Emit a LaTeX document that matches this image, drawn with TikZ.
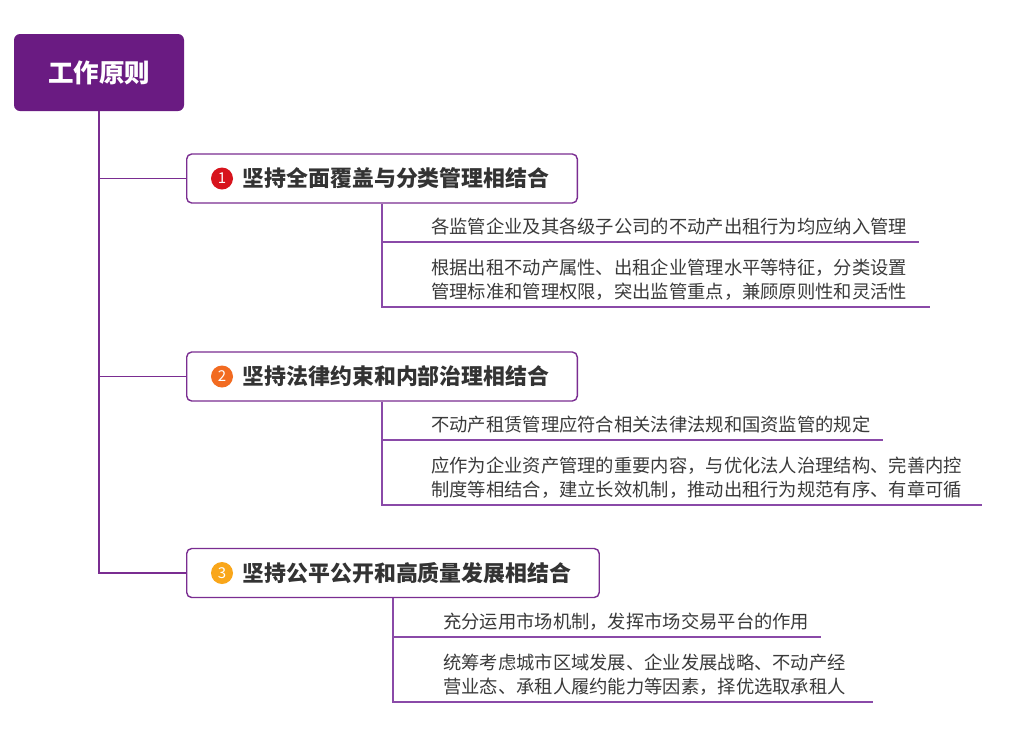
\documentclass[tikz,border=0pt]{standalone}
\usepackage{fontspec}
\setmainfont{Noto Sans CJK SC}
\definecolor{rootc}{HTML}{6A1B82}
\definecolor{linec}{HTML}{7A2D91}
\definecolor{ulinec}{HTML}{8A4AA8}
\definecolor{headc}{HTML}{333333}
\definecolor{leafc}{HTML}{3A3A3A}
\definecolor{numa}{HTML}{D7141D}
\definecolor{numb}{HTML}{F26B21}
\definecolor{numc}{HTML}{F9A61A}
\begin{document}
\begin{tikzpicture}[x=1pt,y=-1pt,
 conn/.style={draw=linec, line width=1.4pt},
 uline/.style={draw=ulinec, line width=1.4pt},
 rootbox/.style={fill=rootc, rounded corners=6pt, minimum width=170pt, minimum height=77pt, inner sep=0pt, text=white, font=\fontsize{25.5}{30}\selectfont\bfseries},
 headbox/.style={draw=linec, line width=1.4pt, fill=white, rounded corners=5pt, minimum height=49pt, inner xsep=0pt, inner ysep=0pt, anchor=west, text=headc, font=\fontsize{21.9}{26}\selectfont\bfseries},
 numdot/.style={circle, inner sep=0pt, minimum size=22pt, text=white, font=\fontsize{15}{15}\selectfont},
 leaf/.style={anchor=south west, inner sep=0pt, text depth=8pt, align=left, text=leafc, font=\fontsize{18.3}{24}\selectfont},
 leaftwo/.style={leaf, text depth=32pt},
]
\useasboundingbox (0,0) rectangle (1015,732);

\node[rootbox] (root) at (99,72.5) {工作原则};

\node[headbox] (h1) at (186,178.5) {\hspace*{56pt}坚持全面覆盖与分类管理相结合\hspace*{28pt}};
\node[headbox] (h2) at (186,376.5) {\hspace*{56pt}坚持法律约束和内部治理相结合\hspace*{28pt}};
\node[headbox] (h3) at (186,573) {\hspace*{56pt}坚持公平公开和高质量发展相结合\hspace*{28pt}};

\node[numdot, fill=numa] (c1) at ([xshift=36pt]h1.west) {1};
\node[numdot, fill=numb] (c2) at ([xshift=36pt]h2.west) {2};
\node[numdot, fill=numc] (c3) at ([xshift=36pt]h3.west) {3};

\node[leaf] (l11) at (431,242) {各监管企业及其各级子公司的不动产出租行为均应纳入管理};
\node[leaftwo, text width=487pt] (l12) at (431,307) {根据出租不动产属性、出租企业管理水平等特征，分类设置\\管理标准和管理权限，突出监管重点，兼顾原则性和灵活性};

\node[leaf] (l21) at (431,440) {不动产租赁管理应符合相关法律法规和国资监管的规定};
\node[leaftwo, text width=539pt] (l22) at (431,505) {应作为企业资产管理的重要内容，与优化法人治理结构、完善内控\\制度等相结合，建立长效机制，推动出租行为规范有序、有章可循};

\node[leaf] (l31) at (443,637) {充分运用市场机制，发挥市场交易平台的作用};
\node[leaftwo, text width=418pt] (l32) at (443,702) {统筹考虑城市区域发展、企业发展战略、不动产经\\营业态、承租人履约能力等因素，择优选取承租人};

\draw[conn] (root.south) |- (h3.west);
\draw[conn] (root.south) |- (h2.west);
\draw[conn] (root.south) |- (h1.west);

\draw[uline] (h1.south) |- ([xshift=12pt]l12.south east);
\draw[uline] (h1.south |- l11.south) -- ([xshift=12pt]l11.south east);
\draw[uline] (h2.south) |- ([xshift=12pt]l22.south east);
\draw[uline] (h2.south |- l21.south) -- ([xshift=12pt]l21.south east);
\draw[uline] (h3.south) |- ([xshift=12pt]l32.south east);
\draw[uline] (h3.south |- l31.south) -- ([xshift=12pt]l31.south east);
\end{tikzpicture}
\end{document}
